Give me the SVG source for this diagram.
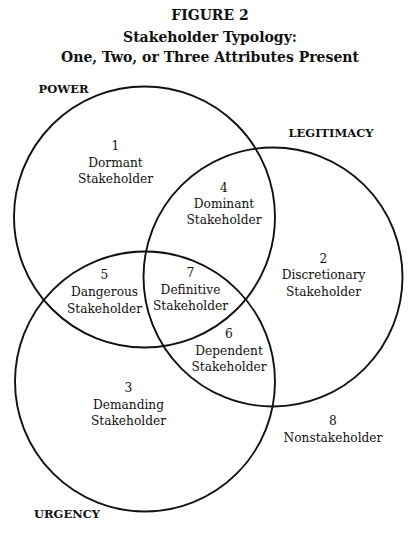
<svg xmlns="http://www.w3.org/2000/svg" width="416" height="533" viewBox="0 0 416 533">
<style>
.c{fill:none;stroke:#111;stroke-width:1.9}
.t{font-family:"DejaVu Serif","Liberation Serif",serif;fill:#111;text-anchor:middle}
.h{font-weight:bold;font-size:14px}
.lab{font-weight:bold;font-size:11.5px}
.r{font-size:12.2px}
</style>
<rect width="416" height="533" fill="#fff"/>
<g id="title">
<text class="t h" x="210" y="20">FIGURE 2</text>
<text class="t h" x="210" y="41.5">Stakeholder Typology:</text>
<text class="t h" x="210" y="61.5">One, Two, or Three Attributes Present</text>
</g>
<g id="connectors">
<circle id="power-circle" class="c" cx="144.5" cy="217" r="130.5"/>
<circle id="legitimacy-circle" class="c" cx="273" cy="277" r="129.5"/>
<circle id="urgency-circle" class="c" cx="145" cy="381.5" r="130"/>
</g>
<g id="power"><text class="t lab" x="63.5" y="92.5">POWER</text></g>
<g id="legitimacy"><text class="t lab" x="331" y="136.5">LEGITIMACY</text></g>
<g id="urgency"><text class="t lab" x="67" y="518">URGENCY</text></g>
<g id="n1"><text class="t r" x="115.5" y="150">1</text><text class="t r" x="115.5" y="167">Dormant</text><text class="t r" x="115.5" y="183">Stakeholder</text></g>
<g id="n4"><text class="t r" x="224" y="192">4</text><text class="t r" x="224" y="208">Dominant</text><text class="t r" x="224" y="224">Stakeholder</text></g>
<g id="n2"><text class="t r" x="323.5" y="263">2</text><text class="t r" x="323.5" y="279">Discretionary</text><text class="t r" x="323.5" y="296">Stakeholder</text></g>
<g id="n5"><text class="t r" x="104.5" y="279">5</text><text class="t r" x="104.5" y="296">Dangerous</text><text class="t r" x="104.5" y="312.5">Stakeholder</text></g>
<g id="n7"><text class="t r" x="190.5" y="277">7</text><text class="t r" x="190.5" y="294">Definitive</text><text class="t r" x="190.5" y="310">Stakeholder</text></g>
<g id="n6"><text class="t r" x="229" y="338">6</text><text class="t r" x="229" y="355">Dependent</text><text class="t r" x="229" y="371">Stakeholder</text></g>
<g id="n3"><text class="t r" x="128.5" y="392">3</text><text class="t r" x="128.5" y="409">Demanding</text><text class="t r" x="128.5" y="425">Stakeholder</text></g>
<g id="n8"><text class="t r" x="333" y="425">8</text><text class="t r" x="333" y="442">Nonstakeholder</text></g>
</svg>
